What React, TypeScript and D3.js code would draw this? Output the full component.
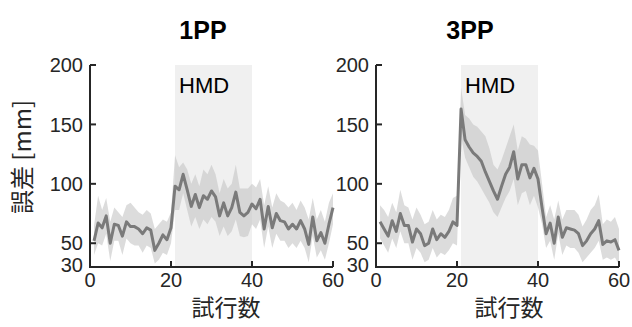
import * as d3 from 'd3'

// trial numbers 1..60
const trials = [
    1, 2, 3, 4, 5, 6, 7, 8, 9, 10, 11, 12, 13, 14, 15, 16, 17, 18, 19, 20,
    21, 22, 23, 24, 25, 26, 27, 28, 29, 30, 31, 32, 33, 34, 35, 36, 37, 38, 39, 40,
    41, 42, 43, 44, 45, 46, 47, 48, 49, 50, 51, 52, 53, 54, 55, 56, 57, 58, 59, 60,
]

const mean1PP = [
    52, 67, 63, 73, 50, 66, 65, 56, 68, 64, 64, 62, 58, 63, 61, 44, 50, 57, 53, 63,
    98, 95, 108, 95, 81, 91, 80, 90, 87, 94, 89, 73, 84, 73, 80, 93, 76, 73, 76, 83,
    79, 87, 62, 81, 63, 75, 69, 68, 62, 66, 62, 69, 62, 49, 72, 52, 59, 50, 66, 80,
]
const upper1PP = [
    65, 90, 78, 88, 68, 80, 76, 72, 82, 84, 80, 76, 74, 78, 75, 62, 66, 70, 68, 76,
    124, 114, 118, 112, 100, 108, 98, 112, 108, 116, 108, 92, 104, 96, 100, 116, 96, 96, 96, 100,
    97, 104, 82, 98, 80, 92, 86, 84, 80, 84, 78, 86, 80, 70, 88, 70, 78, 68, 84, 92,
]
const lower1PP = [
    40, 50, 48, 58, 35, 52, 52, 40, 54, 50, 48, 48, 42, 48, 46, 33, 36, 42, 40, 50,
    78, 78, 92, 78, 64, 72, 62, 70, 66, 72, 68, 56, 64, 56, 60, 70, 56, 55, 56, 66,
    62, 70, 46, 64, 46, 58, 52, 52, 46, 50, 46, 52, 46, 34, 56, 38, 44, 36, 50, 66,
]

const mean3PP = [
    68, 62, 56, 69, 60, 75, 65, 65, 51, 62, 58, 48, 50, 62, 53, 58, 55, 60, 68, 65,
    163, 137, 131, 126, 123, 119, 110, 102, 94, 87, 98, 108, 114, 127, 104, 116, 116, 105, 113, 104,
    80, 58, 67, 50, 72, 55, 63, 62, 61, 58, 48, 52, 58, 62, 69, 49, 52, 51, 53, 44,
]
const upper3PP = [
    82, 78, 72, 84, 76, 95, 82, 80, 70, 80, 74, 66, 68, 78, 70, 74, 72, 78, 88, 90,
    181, 158, 155, 150, 148, 144, 140, 130, 116, 112, 120, 130, 140, 150, 128, 140, 138, 133, 132, 128,
    100, 72, 82, 70, 86, 70, 78, 78, 78, 74, 64, 70, 78, 82, 91, 66, 70, 68, 72, 62,
]
const lower3PP = [
    54, 48, 42, 54, 46, 60, 50, 50, 36, 46, 42, 34, 36, 46, 38, 42, 40, 44, 50, 48,
    140, 122, 114, 106, 102, 96, 90, 84, 76, 72, 80, 88, 94, 104, 82, 92, 94, 82, 90, 80,
    66, 46, 52, 36, 58, 40, 48, 46, 46, 42, 34, 38, 42, 46, 52, 36, 38, 36, 38, 32,
]

const xTicks = [0, 20, 40, 60]
const yTicks = [30, 50, 100, 150, 200]
const hmdRange = [21, 40]

const axisColor = '#262626'
const font = '"Liberation Sans", Arial, sans-serif'

const y = d3.scaleLinear().domain([30, 200]).range([267, 65])

interface PanelProps {
    title: string
    left: number
    right: number
    titleX: number
    labelX: number
    mean: number[]
    upper: number[]
    lower: number[]
}

function Panel({ title, left, right, titleX, labelX, mean, upper, lower }: PanelProps) {
    const x = d3.scaleLinear().domain([0, 60]).range([left, right])

    const area = d3
        .area<number>()
        .x((d) => x(d))
        .y0((_, i) => y(lower[i]))
        .y1((_, i) => y(upper[i]))

    const line = d3
        .line<number>()
        .x((d) => x(d))
        .y((_, i) => y(mean[i]))

    return (
        <g>
            <text
                x={titleX}
                y={39}
                textAnchor="middle"
                style={{ fontFamily: font, fontSize: 25, fontWeight: 'bold', fill: '#000' }}
            >
                {title}
            </text>

            {/* HMD period */}
            <rect
                x={x(hmdRange[0])}
                y={y(200)}
                width={x(hmdRange[1]) - x(hmdRange[0])}
                height={y(30) - y(200)}
                fill="#f0f0f0"
            />
            <text
                x={x(hmdRange[0]) + 4}
                y={93}
                style={{ fontFamily: font, fontSize: 22, fill: '#000' }}
            >
                HMD
            </text>

            <path d={area(trials) ?? undefined} fill="#c4c4c4" fillOpacity={0.6} />
            <path
                d={line(trials) ?? undefined}
                fill="none"
                stroke="#7a7a7a"
                strokeWidth={3}
                strokeLinejoin="round"
            />

            {/* axes */}
            <path
                d={`M${x(0)},${y(200)}V${y(30)}H${x(60)}`}
                fill="none"
                stroke={axisColor}
                strokeWidth={2}
            />
            {yTicks.slice(1).map((t) => (
                <line
                    key={t}
                    x1={x(0)}
                    x2={x(0) + 6}
                    y1={y(t)}
                    y2={y(t)}
                    stroke={axisColor}
                    strokeWidth={2}
                />
            ))}
            {xTicks.slice(1).map((t) => (
                <line
                    key={t}
                    x1={x(t)}
                    x2={x(t)}
                    y1={y(30)}
                    y2={y(30) - 6}
                    stroke={axisColor}
                    strokeWidth={2}
                />
            ))}
            {yTicks.map((t) => (
                <text
                    key={t}
                    x={x(0) - 7}
                    y={t === 30 ? y(t) - 2 : y(t)}
                    dy="0.36em"
                    textAnchor="end"
                    style={{ fontFamily: font, fontSize: 20, fill: '#262626' }}
                >
                    {t}
                </text>
            ))}
            {xTicks.map((t) => (
                <text
                    key={t}
                    x={x(t)}
                    y={287}
                    textAnchor="middle"
                    style={{ fontFamily: font, fontSize: 20, fill: '#262626' }}
                >
                    {t}
                </text>
            ))}
            <text
                x={labelX}
                y={316}
                textAnchor="middle"
                style={{ fontFamily: '"Noto Sans CJK JP", sans-serif', fontSize: 23, fill: '#262626' }}
            >
                試行数
            </text>
        </g>
    )
}

export default function App() {
    return (
        <svg
            width={632}
            height={327}
            style={{ position: 'absolute', left: 0, top: 0, background: 'white' }}
        >
            <text
                transform="translate(31,157) rotate(-90)"
                textAnchor="middle"
                style={{ fontFamily: '"Noto Sans CJK JP", sans-serif', fontSize: 24, fill: '#262626' }}
            >
                誤差 [mm]
            </text>
            <Panel
                title="1PP"
                left={90}
                right={333}
                titleX={203}
                labelX={226}
                mean={mean1PP}
                upper={upper1PP}
                lower={lower1PP}
            />
            <Panel
                title="3PP"
                left={376}
                right={619}
                titleX={470}
                labelX={509}
                mean={mean3PP}
                upper={upper3PP}
                lower={lower3PP}
            />
        </svg>
    )
}
